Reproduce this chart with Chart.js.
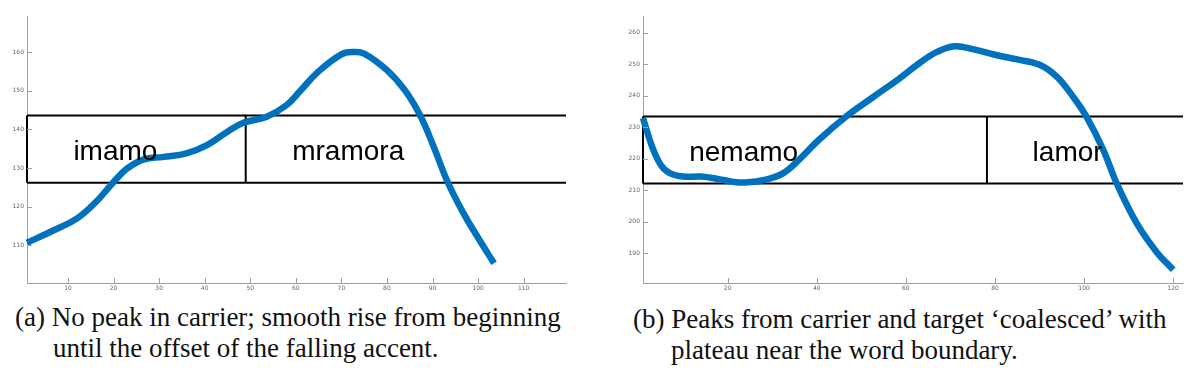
<!DOCTYPE html>
<html>
<head>
<meta charset="utf-8">
<script src="https://cdn.jsdelivr.net/npm/chart.js@4"></script>
<style>
  body { margin: 0; background: #fff; width: 1200px; height: 376px; position: relative; overflow: hidden; }
  .panel { position: absolute; top: 0; width: 600px; height: 300px; }
  .caption {
    position: absolute; font-family: "Liberation Serif", serif; font-size: 27px;
    line-height: 31px; color: #111; padding-left: 38px; text-indent: -38px; white-space: nowrap;
  }
</style>
</head>
<body>
<div class="panel" style="left:0"><canvas id="chartA" width="600" height="300"></canvas></div>
<div class="panel" style="left:600px"><canvas id="chartB" width="600" height="300"></canvas></div>
<div class="caption" style="left:15px; top:302px">(a) No peak in carrier; smooth rise from beginning<br>until the offset of the falling accent.</div>
<div class="caption" style="left:633px; top:304px">(b) Peaks from carrier and target ‘coalesced’ with<br>plateau near the word boundary.</div>
<script>
// (a) imamo mramora
const timeA = [1, 7, 12, 16.5, 20, 23, 26.5, 31, 36, 40.5, 45, 48.5, 53.5, 58, 61, 65, 70, 72.5, 75, 80, 84, 87.3, 90, 93.4, 97, 100, 103.5];
const f0A = [110.7, 114, 117, 121.7, 126.4, 129.9, 132.2, 132.9, 133.8, 135.9, 139.4, 141.7, 143.2, 146.3, 150, 155, 159.4, 160, 159.6, 155.3, 150, 143.6, 136.3, 126.2, 117.9, 112, 105.4];
const xRangeA = [1, 119.3];
const yRangeA = [100.3, 169.3];
const boxA = [126.2, 143.6];      // bottom, top
const boundaryA = 49;
const wordsA = ["imamo", "mramora"];
const wordPosA = [[20.4, 132.1], [71.5, 132.1]];

// (b) nemamo lamor
const timeB = [1, 3, 5, 7, 10, 14, 18, 21, 24, 28.5, 32.5, 36, 40.5, 46.6, 52.6, 58.6, 63, 67, 71, 75, 80, 85, 90, 93.8, 97.5, 100.5, 104.3, 107.3, 111.8, 116.3, 120];
const f0B = [232.9, 224, 218, 215.4, 214.3, 214.3, 213.5, 212.7, 212.4, 213.3, 215.4, 219.6, 226, 233.4, 239.5, 245.5, 250.3, 253.9, 255.7, 254.8, 253, 251.5, 249.8, 246.1, 239.7, 233.4, 222.8, 212.2, 199.5, 190.3, 184.7];
const xRangeB = [1, 122.2];
const yRangeB = [180.5, 265.3];
const boxB = [212.1, 233.4];
const boundaryB = 78.2;
const wordsB = ["nemamo", "lamor"];
const wordPosB = [[23.6, 219.3], [96.3, 219.3]];

const axisGrey = '#a0a0a0';

// ticks drawn inward, like the original plot
const innerTicks = {
  id: 'innerTicks',
  afterDraw(chart) {
    const ctx = chart.ctx;
    const x = chart.scales.x, y = chart.scales.y;
    ctx.save();
    ctx.strokeStyle = axisGrey;
    ctx.lineWidth = 1;
    ctx.beginPath();
    x.ticks.forEach(t => {
      const px = Math.round(x.getPixelForValue(t.value)) + 0.5;
      ctx.moveTo(px, x.top);
      ctx.lineTo(px, x.top - 5);
    });
    y.ticks.forEach(t => {
      const py = Math.round(y.getPixelForValue(t.value)) + 0.5;
      ctx.moveTo(y.right, py);
      ctx.lineTo(y.right + 5, py);
    });
    ctx.stroke();
    ctx.restore();
  }
};

// word labels inside the boxes
const wordLabels = {
  id: 'wordLabels',
  afterDatasetsDraw(chart, args, opts) {
    const ctx = chart.ctx;
    ctx.save();
    ctx.font = '28px "Liberation Sans", Arial, sans-serif';
    ctx.fillStyle = '#000';
    ctx.textAlign = 'center';
    ctx.textBaseline = 'alphabetic';
    opts.words.forEach((w, i) => {
      const px = chart.scales.x.getPixelForValue(opts.pos[i][0]);
      const py = chart.scales.y.getPixelForValue(opts.pos[i][1]);
      ctx.fillText(w, px, py);
    });
    ctx.restore();
  }
};

function makeChart(id, time, f0, xRange, yRange, xStep, box, boundary, words, pos, area) {
  const curve = time.map((t, i) => ({ x: t, y: f0[i] }));
  const line = (pts, w) => ({
    data: pts, borderColor: '#000', borderWidth: w, pointRadius: 0,
    showLine: true, tension: 0, clip: false, order: 2
  });
  const tickFont = { size: 6, family: 'DejaVu Sans' };
  return new Chart(document.getElementById(id), {
    type: 'scatter',
    data: {
      datasets: [
        {
          data: curve, borderColor: '#0072BD', borderWidth: 6.5, pointRadius: 0,
          showLine: true, tension: 0.4, borderCapStyle: 'butt', borderJoinStyle: 'round',
          clip: false, order: 1
        },
        line([{ x: xRange[0], y: box[1] }, { x: xRange[1], y: box[1] }], 2),
        line([{ x: xRange[0], y: box[0] }, { x: xRange[1], y: box[0] }], 2),
        line([{ x: xRange[0], y: box[0] }, { x: xRange[0], y: box[1] }], 2),
        line([{ x: boundary, y: box[0] }, { x: boundary, y: box[1] }], 2)
      ]
    },
    options: {
      responsive: false,
      animation: false,
      layout: { padding: { top: area.top, right: 600 - area.right, left: 0, bottom: 0 } },
      plugins: {
        legend: { display: false },
        tooltip: { enabled: false },
        wordLabels: { words: words, pos: pos }
      },
      scales: {
        x: {
          type: 'linear', min: xRange[0], max: xRange[1],
          grid: { display: false, drawTicks: false },
          border: { color: axisGrey, width: 1 },
          ticks: { stepSize: xStep, includeBounds: false, autoSkip: false, maxRotation: 0, minRotation: 0,
                   padding: 2, color: '#666', font: tickFont },
          afterFit: s => { s.height = 300 - area.bottom; }
        },
        y: {
          type: 'linear', min: yRange[0], max: yRange[1],
          grid: { display: false, drawTicks: false },
          border: { color: axisGrey, width: 1 },
          ticks: { stepSize: 10, includeBounds: false, padding: 3, color: '#666', font: tickFont },
          afterFit: s => { s.width = area.left; }
        }
      }
    },
    plugins: [innerTicks, wordLabels]
  });
}

makeChart('chartA', timeA, f0A, xRangeA, yRangeA, 10, boxA, boundaryA, wordsA, wordPosA,
  { left: 27, top: 16, right: 566, bottom: 283 });
makeChart('chartB', timeB, f0B, xRangeB, yRangeB, 20, boxB, boundaryB, wordsB, wordPosB,
  { left: 43, top: 16, right: 583, bottom: 283 });
</script>
</body>
</html>
